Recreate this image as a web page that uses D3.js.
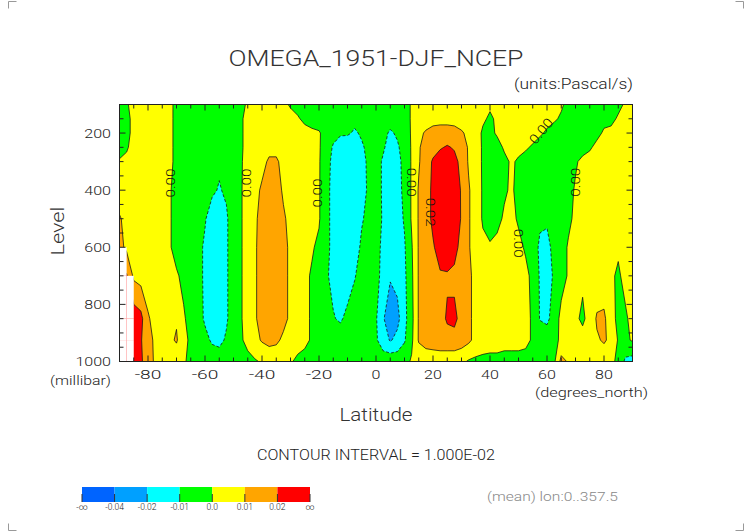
<!DOCTYPE html>
<html>
<head>
<meta charset="utf-8">
<script src="https://cdnjs.cloudflare.com/ajax/libs/d3/7.8.5/d3.min.js"></script>
<style>
  html, body { margin: 0; padding: 0; background: #fff; }
  svg { display: block; }
  text { font-family: Roboto, "DejaVu Sans", sans-serif; font-weight: 300; fill: #222; }
</style>
</head>
<body>
<div id="chart"></div>
<script>
// Size of the page
var width = 752, height = 532;

// Grid of the field: latitude (degrees_north) and pressure level (millibar, top to bottom)
var lats = [-90, -87.5, -85, -82.5, -80, -77.5, -75, -72.5, -70, -67.5,
            -65, -62.5, -60, -57.5, -55, -52.5, -50, -47.5, -45, -42.5,
            -40, -37.5, -35, -32.5, -30, -27.5, -25, -22.5, -20, -17.5,
            -15, -12.5, -10, -7.5, -5, -2.5, 0, 2.5, 5, 7.5,
            10, 12.5, 15, 17.5, 20, 22.5, 25, 27.5, 30, 32.5,
            35, 37.5, 40, 42.5, 45, 47.5, 50, 52.5, 55, 57.5,
            60, 62.5, 65, 67.5, 70, 72.5, 75, 77.5, 80, 82.5,
            85, 87.5, 90];
var levels = [100, 150, 200, 250, 300, 400, 500, 600, 700, 850, 925, 1000];

// Zonal mean omega, in 1.0E-03 Pascal/s, one array per level (null = below ground)
var omega100 = [-3, -1, 3, 4, 4, 4, 3, 2, -2, -4,
                -5, -5, -5, -5, -5, -4, -4, -2, 1, 3,
                4, 4, 4, 2, -1, -3, -4, -4, -4, -5,
                -6, -7, -7, -7, -6, -5, -5, -5, -6, -5,
                -4, 1, 3, 4, 5, 5, 5, 5, 4, 4,
                3, 2, 1, 2, 3, 3, 3, 3, 3, 3,
                3, 2, 1, -2, -3, -3, -3, -3, -3, -3,
                -2, 1, 2];
var omega150 = [-4, -2, 2, 4, 5, 5, 4, 2, -2, -4,
                -6, -6, -6, -6, -6, -5, -4, -1, 2, 4,
                5, 5, 5, 4, 3, 1, -2, -4, -5, -6,
                -7, -8, -8, -8, -7, -6, -5, -6, -7, -6,
                -4, 1, 4, 6, 7, 7, 7, 7, 6, 5,
                3, 1, -1, 1, 3, 3, 3, 3, 3, 2,
                2, 1, -1, -2, -3, -3, -3, -3, -2, -2,
                1, 2, 3];
var omega200 = [-4, -2, 2, 4, 5, 5, 4, 2, -2, -5,
                -7, -7, -8, -8, -7, -6, -4, -1, 2, 4,
                6, 7, 7, 6, 5, 4, 3, 2, 1, -4,
                -7, -9, -9, -11, -9, -7, -6, -8, -11, -9,
                -5, 1, 8, 11, 13, 14, 14, 13, 11, 8,
                3, -1, -2, 1, 3, 4, 4, 4, 3, 1,
                -1, -3, -4, -4, -4, -3, -3, -2, 1, 2,
                3, 3, 3];
var omega250 = [-4, -1, 3, 4, 5, 5, 4, 2, -2, -5,
                -7, -8, -8, -9, -8, -7, -5, -1, 2, 5,
                7, 8, 8, 7, 6, 4, 3, 2, 1, -5,
                -11, -14, -15, -14, -11, -8, -7, -9, -13, -11,
                -7, 1, 9, 14, 17, 19, 21, 19, 15, 9,
                4, -1, -3, -3, 1, 2, 2, 1, -1, -3,
                -4, -4, -5, -5, -4, -3, -1, 2, 3, 4,
                4, 4, 4];
var omega300 = [1, 2, 4, 5, 6, 6, 5, 2, -2, -5,
                -7, -8, -9, -9, -9, -8, -6, -1, 3, 6,
                8, 11, 11, 8, 6, 4, 3, 2, 1, -7,
                -12, -15, -17, -16, -13, -8, -7, -11, -14, -12,
                -8, 1, 9, 16, 21, 25, 26, 23, 17, 9,
                4, -1, -3, -3, -2, 1, -1, -3, -4, -5,
                -5, -5, -4, -3, -1, 2, 3, 4, 4, 4,
                4, 4, 4];
var omega400 = [4, 5, 6, 6, 6, 6, 5, 1, -3, -6,
                -7, -8, -9, -9, -10.5, -9, -6, -1, 4, 8,
                11, 13, 13, 9, 6, 4, 3, 2, 1, -8,
                -12, -16, -18, -17, -14, -8, -7, -11, -15, -13,
                -8, 1, 11, 16, 22, 28, 30, 26, 19, 11,
                5, -1, -4, -4, -1, 1, -2, -5, -6, -7,
                -7, -6, -5, -3, 1, 3, 4, 4, 4, 4,
                4, 4, 4];
var omega500 = [11, 7, 7, 6, 6, 6, 5, 1, -3, -6,
                -7, -9, -9.5, -13, -14, -11, -6, -1, 4, 9,
                12, 14, 14, 11, 8, 5, 3, 2, 1, -8,
                -12, -16, -18, -18, -11, -7, -6, -11, -16, -14,
                -9, 1, 11, 16, 22, 29, 31, 27, 19, 11,
                5, -1, -4, -2, 1, 2, -1, -4, -6, -9,
                -9, -7, -5, -2, 2, 3, 4, 4, 4, 3,
                3, 3, 3];
var omega600 = [13, 8, 7, 6, 6, 6, 5, 1, -3, -6,
                -7, -8, -11, -15, -16, -11, -6, -1, 4, 9,
                13, 15, 15, 13, 8, 5, 2, 1, -2, -8,
                -12, -15, -17, -15, -8, -6, -7, -12, -17, -15,
                -11, -1, 11, 16, 19, 24, 26, 23, 17, 11,
                5, 2, 1, 2, 3, 3, 2, -1, -7, -11,
                -12, -8, -4, 1, 3, 4, 4, 4, 3, 2,
                1, 3, 3];
var omega700 = [null, 21, 8, 6, 5, 5, 4, 3, 1, -2,
                -5, -8, -11, -15, -16, -11, -6, -1, 4, 9,
                13, 16, 16, 13, 8, 5, 2, -1, -5, -9,
                -12, -14, -14, -10.5, -7, -5, -7, -13, -19, -17,
                -12, -2, 11, 15, 17, 19, 19, 18, 16, 12,
                7, 3, 2, 2, 3, 3, 3, 2, -2, -11,
                -13, -9, -4, 1, 3, 2, 4, 4, 3, 1,
                -1, 2, 3];
var omega850 = [null, null, 26, 23, 11, 7, 6, 7, 9, 1,
                -3, -7, -11, -15, -16, -11, -6, -1, 4, 9,
                13, 16, 16, 13, 8, 5, 2, -1, -5, -8,
                -9.5, -11, -8, -6, -5, -5, -9, -19, -26, -23,
                -13, -3, 11, 14, 15, 17, 21, 22, 17, 12,
                7, 4, 3, 2, 2, 2, 2, 2, -1, -10.5,
                -12, -6, 3, 4, 2, -2, 4, 11, 12, 3,
                -2, -1, 2];
var omega925 = [null, null, 27, 21, 12, 9, 7, 8, 11, 3,
                -2, -5, -8, -11, -12, -9, -5, -1, 2, 7,
                11, 13, 12, 8, 6, 4, 2, -1, -3, -5,
                -6, -6, -5, -4, -4, -6, -9, -14, -21, -17,
                -11, -2, 11, 14, 15, 16, 17, 17, 15, 12,
                7, 4, 3, 3, 2, 2, 2, 2, -1, -4,
                -5, -3, 2, 5, 4, 4, 5, 9, 11, 8,
                -1, -2, 1];
var omega1000 = [null, null, 25, 22, 13, 9, 6, 5, 4, 1,
                 -2, -4, -5, -6, -6, -5, -4, -3, -2, -1,
                 1, 3, 3, 2, 1, -2, -3, -3, -4, -4,
                 -4, -4, -4, -4, -4, -5, -6, -6, -3, -4,
                 -3, 1, 3, 4, 4, 4, 3, 3, 2, -1,
                 -2, -2, -2, -2, -2, -2, -2, -3, -4, -5,
                 -4, -2, 13, 9, 5, 4, 4, 5, 5, 2,
                 -2, -12, -14];

// Shading levels (1.0E-03 Pascal/s) and colours, lowest band first
var thresholds = [-40, -20, -10, 0, 10, 20];
var bandColors = ["#0064ff", "#00a0ff", "#00ffff", "#00ff00", "#ffff00", "#ffa500", "#ff0000"];
var colorbarLabels = ["-\u221e", "-0.04", "-0.02", "-0.01", "0.0", "0.01", "0.02", "\u221e"];

// Axis ticks and labels
var latTicks = [-80, -60, -40, -20, 0, 20, 40, 60, 80];
var levTicks = [200, 400, 600, 800, 1000];

// Contour labels drawn on the lines
var contourLabels = [
  {lat: -72.3, lev: 375, text: "0.00", angle: -90},
  {lat: -45.6, lev: 375, text: "0.00", angle: -90},
  {lat: -20.7, lev: 410, text: "0.00", angle: -90},
  {lat: 12.6, lev: 372, text: "0.00", angle: 90},
  {lat: 19.3, lev: 477, text: "0.02", angle: 90},
  {lat: 50.2, lev: 586, text: "0.00", angle: 90},
  {lat: 69.8, lev: 372, text: "0.00", angle: -90},
  {lat: 57.9, lev: 193, text: "0.00", angle: -50}
];

var svg = d3.select("#chart").append("svg")
    .attr("width", width)
    .attr("height", height);

// Scales of the plot area
var x = d3.scaleLinear().domain([-90, 90]).range([119.5, 632.5]);
var y = d3.scaleLinear().domain([100, 1000]).range([104.5, 361.5]);

var rows = [omega100, omega150, omega200, omega250, omega300, omega400,
            omega500, omega600, omega700, omega850, omega925, omega1000];
var nx = lats.length, ny = levels.length;

// Flatten the grid; points below ground take the next valid value toward the equator (hidden by the mask)
var grid = [];
rows.forEach(function(row) {
  row.forEach(function(v, i) {
    var k = i;
    while (row[k] == null) k++;
    grid.push(row[k]);
  });
});

// Grid coordinates from d3.contours -> latitude / level
function interp(arr, c) {
  var u = Math.max(0, Math.min(arr.length - 1, c - 0.5)),
      i = Math.min(arr.length - 2, Math.floor(u));
  return arr[i] + (u - i) * (arr[i + 1] - arr[i]);
}
var toScreen = d3.geoTransform({
  point: function(cx, cy) {
    this.stream.point(x(interp(lats, cx)), y(interp(levels, cy)));
  }
});
var path = d3.geoPath(toScreen);

var bands = d3.contours()
    .size([nx, ny])
    .thresholds(thresholds)(grid);

svg.append("clipPath").attr("id", "plotclip")
  .append("rect")
    .attr("x", x(-90)).attr("y", y(100))
    .attr("width", x(90) - x(-90)).attr("height", y(1000) - y(100));

var plot = svg.append("g").attr("clip-path", "url(#plotclip)");

plot.append("rect")
    .attr("x", x(-90)).attr("y", y(100))
    .attr("width", x(90) - x(-90)).attr("height", y(1000) - y(100))
    .attr("fill", bandColors[0]);

plot.selectAll("path.band")
  .data(bands)
  .enter().append("path")
    .attr("class", "band")
    .attr("d", path)
    .attr("fill", function(d, i) { return bandColors[i + 1]; });

plot.selectAll("path.cline")
  .data(bands)
  .enter().append("path")
    .attr("class", "cline")
    .attr("d", path)
    .attr("fill", "none")
    .attr("stroke", "#1a1a1a")
    .attr("stroke-width", 0.8)
    .attr("stroke-dasharray", function(d) { return d.value < 0 ? "3,2" : null; });

// Missing data below ground: white boxes
rows.forEach(function(row, j) {
  row.forEach(function(v, i) {
    if (v == null && j > 0 && i < nx - 1) {
      plot.append("rect")
          .attr("x", x(lats[i]))
          .attr("y", y(levels[j - 1]))
          .attr("width", x(lats[i + 1]) - x(lats[i]))
          .attr("height", y(levels[j]) - y(levels[j - 1]))
          .attr("fill", "#fff");
    }
  });
});

// Contour labels
plot.selectAll("text.clab")
  .data(contourLabels)
  .enter().append("text")
    .attr("class", "clab")
    .attr("transform", function(d) {
      return "translate(" + x(d.lat) + "," + y(d.lev) + ") rotate(" + d.angle + ")";
    })
    .attr("text-anchor", "middle")
    .attr("dy", "0.36em")
    .attr("font-size", 13.5)
    .attr("textLength", 29)
    .attr("lengthAdjust", "spacingAndGlyphs")
    .style("fill", "#111")
    .text(function(d) { return d.text; });

// Frame and inward ticks
var axes = svg.append("g").attr("stroke", "#222").attr("stroke-width", 1);

d3.range(-90, 91, 5).forEach(function(lat) {
  var len = latTicks.indexOf(lat) >= 0 ? 6 : 4;
  axes.append("line").attr("x1", x(lat)).attr("x2", x(lat)).attr("y1", y(1000)).attr("y2", y(1000) - len);
  axes.append("line").attr("x1", x(lat)).attr("x2", x(lat)).attr("y1", y(100)).attr("y2", y(100) + len);
});
d3.range(100, 1001, 50).forEach(function(lev) {
  var len = levTicks.indexOf(lev) >= 0 ? 6 : 4;
  axes.append("line").attr("x1", x(-90)).attr("x2", x(-90) + len).attr("y1", y(lev)).attr("y2", y(lev));
  axes.append("line").attr("x1", x(90)).attr("x2", x(90) - len).attr("y1", y(lev)).attr("y2", y(lev));
});
axes.append("rect")
    .attr("x", x(-90)).attr("y", y(100))
    .attr("width", x(90) - x(-90)).attr("height", y(1000) - y(100))
    .attr("fill", "none");

// Tick labels
svg.selectAll("text.ylab")
  .data(levTicks)
  .enter().append("text")
    .attr("x", 111)
    .attr("y", function(d) { return y(d) + 4.5; })
    .attr("text-anchor", "end")
    .attr("font-size", 13)
    .attr("textLength", function(d) { return String(d).length * 8.9; })
    .attr("lengthAdjust", "spacingAndGlyphs")
    .text(function(d) { return d; });

svg.selectAll("text.xlab")
  .data(latTicks)
  .enter().append("text")
    .attr("x", function(d) { return x(d); })
    .attr("y", 379)
    .attr("text-anchor", "middle")
    .attr("font-size", 13)
    .attr("textLength", function(d) { return String(d).length * 8.9; })
    .attr("lengthAdjust", "spacingAndGlyphs")
    .text(function(d) { return d; });

// Titles and notes
function label(txt, px, py, size, len, anchor, color) {
  return svg.append("text")
      .attr("x", px).attr("y", py)
      .attr("font-size", size)
      .attr("text-anchor", anchor)
      .attr("textLength", len)
      .attr("lengthAdjust", "spacingAndGlyphs")
      .style("fill", color || "#222")
      .text(txt);
}
label("OMEGA_1951-DJF_NCEP", 376, 66, 22, 295, "middle", "#333");
label("(units:Pascal/s)", 633, 89, 14, 119, "end");
label("(millibar)", 111, 385, 13, 61, "end");
label("Latitude", 376, 421, 19, 73, "middle", "#333");
label("(degrees_north)", 648, 397, 13, 113, "end");
label("CONTOUR INTERVAL = 1.000E-02", 376, 460, 15, 238, "middle");
label("(mean) lon:0..357.5", 487, 501, 13, 131, "start", "#888");

svg.append("text")
    .attr("transform", "translate(64,231) rotate(-90)")
    .attr("text-anchor", "middle")
    .attr("font-size", 19)
    .attr("textLength", 49)
    .attr("lengthAdjust", "spacingAndGlyphs")
    .style("fill", "#333")
    .text("Level");

// Colour bar
var cb = d3.scaleLinear().domain([0, bandColors.length]).range([82, 310]);
svg.selectAll("rect.cbox")
  .data(bandColors)
  .enter().append("rect")
    .attr("x", function(d, i) { return cb(i); })
    .attr("y", 487)
    .attr("width", cb(1) - cb(0))
    .attr("height", 15)
    .attr("fill", function(d) { return d; });
svg.selectAll("line.ctick")
  .data(colorbarLabels)
  .enter().append("line")
    .attr("x1", function(d, i) { return cb(i); })
    .attr("x2", function(d, i) { return cb(i); })
    .attr("y1", 494).attr("y2", 502)
    .attr("stroke", "#333").attr("stroke-width", 1);
svg.selectAll("text.clabel")
  .data(colorbarLabels)
  .enter().append("text")
    .attr("x", function(d, i) { return cb(i); })
    .attr("y", 509.5)
    .attr("text-anchor", "middle")
    .attr("font-size", 8.5)
    .style("fill", "#222")
    .text(function(d) { return d; });

// Corner marks of the page
var corners = svg.append("g").attr("stroke", "#999").attr("stroke-width", 1).attr("fill", "none");
corners.append("path").attr("d", "M8.5,8.5V1.5H16.5");
corners.append("path").attr("d", "M735.5,1.5H743.5V8.5");
corners.append("path").attr("d", "M8.5,523.5V530.5H16.5");
corners.append("path").attr("d", "M735.5,530.5H743.5V523.5");
</script>
</body>
</html>
